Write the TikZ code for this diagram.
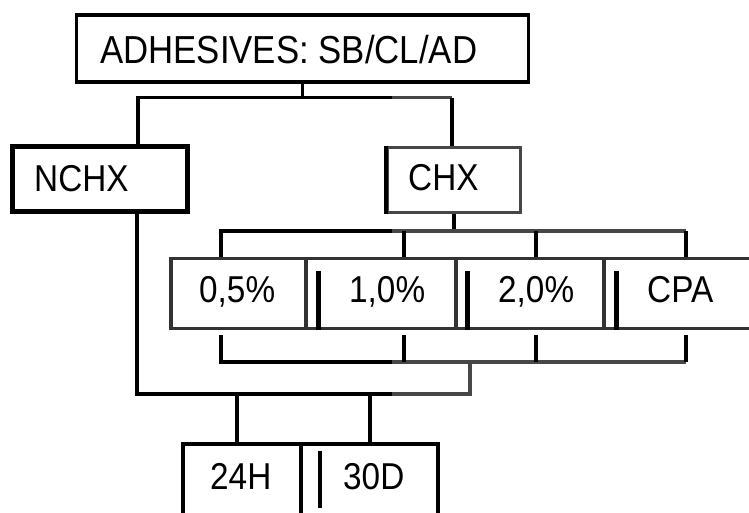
\documentclass[tikz,border=0pt]{standalone}
\usepackage{fontspec}
\setmainfont{Liberation Sans}
\usetikzlibrary{calc}
\definecolor{dg}{HTML}{474747}
\definecolor{rg}{HTML}{333333}
\newcommand\talltext[1]{\scalebox{0.98}[1.1]{#1}}
\begin{document}
\begin{tikzpicture}[x=1pt,y=-1pt,
  box/.style={draw=black,line width=3.5pt,rectangle,inner sep=0pt},
  lbl/.style={anchor=base west,inner sep=0pt,font=\fontsize{34}{40}\selectfont},
  conn/.style={line width=3.5pt,draw=black},
  gconn/.style={line width=3.5pt,draw=dg},
  barline/.style={line width=4.5pt,draw=black}]
\useasboundingbox (0,0) rectangle (749,512);
\fill[white] (0,0) rectangle (749,512);

% top box
\node[box,minimum width=452pt,minimum height=67pt] (top) at (302.5,48.5) {};
\node[lbl,font=\fontsize{35.5}{42}\selectfont] (ttop) at (100,63) {\talltext{ADHESIVES: SB/CL/AD}};

% second level
\node[box,line width=4.5pt,minimum width=175pt,minimum height=65pt] (nchx) at (100,179) {};
\node[lbl] (tnchx) at (34,191) {\talltext{NCHX}};
\node[box,draw=dg,minimum width=133pt,minimum height=65pt] (chx) at (454,180) {};
\draw[conn] (chx.north west) -- (chx.south west);
\node[lbl] (tchx) at (408,190) {\talltext{CHX}};

% row of concentrations
\node[box,draw=rg,minimum width=135pt,minimum height=70pt] (c1) at (238.5,293.5) {};
\node[box,draw=rg,minimum width=150pt,minimum height=70pt] (c2) at (381,293.5) {};
\node[box,draw=rg,minimum width=148pt,minimum height=70pt] (c3) at (530,293.5) {};
\node[box,draw=rg,minimum width=148pt,minimum height=70pt] (c4) at (678,293.5) {};
\node[lbl] (t1) at (199,302) {\talltext{0,5\%}};
\node[lbl] (t2) at (349,302) {\talltext{1,0\%}};
\node[lbl] (t3) at (498,302) {\talltext{2,0\%}};
\node[lbl] (t4) at (647,302) {\talltext{CPA}};
\draw[barline] ($(c2.south west)+(14,0)$) -- ++(0,-59);
\draw[barline] ($(c3.south west)+(13,0)$) -- ++(0,-59);
\draw[barline] ($(c4.south west)+(14,0)$) -- ++(0,-59);

% bottom boxes
\node[box,minimum width=118pt,minimum height=76pt] (d1) at (242,482) {};
\node[box,minimum width=137pt,minimum height=76pt] (d2) at (369.5,482) {};
\node[lbl] (u1) at (210,489) {\talltext{24H}};
\node[lbl] (u2) at (343,489) {\talltext{30D}};
\draw[barline] (320,451) -- (320,508);

% connectors: top -> NCHX / CHX
\coordinate (jL) at (138,97.5);
\coordinate (jM) at (392,97.5);
\coordinate (jR) at (452,97.5);
\draw[conn] (top.south) -- (top.south |- jL);
\draw[conn] (jL |- nchx.north) -- (jL) -- (jM);
\draw[gconn] (jM) -- (jR);
\draw[conn] (jR) -- (jR |- chx.north);

% CHX -> row
\coordinate (h1) at (221,231);
\coordinate (hm) at (392,231);
\coordinate (h2) at (404,231);
\coordinate (h3) at (536,231);
\coordinate (h4) at (686,231);
\draw[conn] (chx.south) -- (chx.south |- h1);
\draw[conn] (h1 |- c1.north) -- (h1) -- (hm);
\draw[gconn] (hm) -- (h4);
\draw[conn] (h4) -- (h4 |- c4.north);
\draw[conn] (h2) -- (h2 |- c2.north);
\draw[conn] (h3) -- (h3 |- c3.north);

% row -> merge
\coordinate (b1) at (221,362);
\coordinate (bm) at (392,362);
\coordinate (b2) at (404,362);
\coordinate (b3) at (536,362);
\coordinate (b4) at (686,362);
\coordinate (s1) at (470,362);
\coordinate (s2) at (470,394);
\coordinate (sm) at (392,394);
\coordinate (n1) at (137,394);
\draw[conn] ([yshift=27pt]b1) -- (b1) -- (bm);
\draw[gconn] (bm) -- (b4);
\draw[conn] ([yshift=27pt]b4) -- (b4);
\draw[conn] ([yshift=27pt]b2) -- (b2);
\draw[conn] ([yshift=27pt]b3) -- (b3);
\draw[gconn] (s1) -- (s2) -- (sm);
\draw[conn] (sm) -- (n1) -- (n1 |- nchx.south);

% merge -> times
\coordinate (e1) at (237,394);
\coordinate (e2) at (370,394);
\draw[conn] (e1) -- (e1 |- d1.north);
\draw[conn] (e2) -- (e2 |- d2.north);
\end{tikzpicture}
\end{document}
